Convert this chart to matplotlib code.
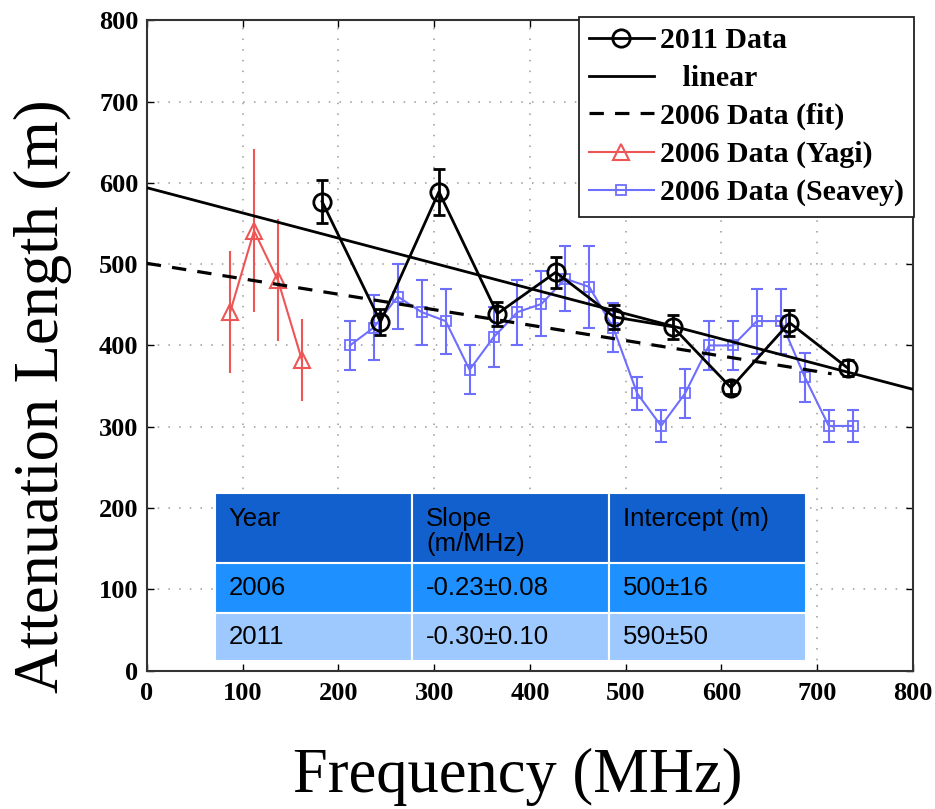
import matplotlib
matplotlib.use("Agg")
import matplotlib.pyplot as plt
from matplotlib.patches import Rectangle
import numpy as np

# ---------------- data ----------------
freq_2011 = [183, 244, 305, 366, 427, 488, 549, 610, 671, 732]
att_2011 = [577, 429, 589, 439, 490, 435, 423, 348, 428, 372]
err_2011 = [27, 16, 28, 15, 19, 15, 15, 8, 16, 10]

freq_yagi = [87, 112, 137, 162]
att_yagi = [441, 541, 480, 382]
err_yagi = [75, 100, 75, 50]

freq_seavey = [212, 237, 262, 287, 312, 337, 362, 387, 412, 437, 462,
               487, 512, 537, 562, 587, 612, 637, 662, 687, 712, 737]
att_seavey = [400, 422, 460, 441, 430, 370, 410, 441, 451, 482, 472,
              422, 341, 301, 341, 400, 400, 430, 430, 361, 301, 301]
err_seavey = [30, 40, 40, 40, 40, 30, 37, 40, 40, 40, 50,
              30, 20, 20, 30, 30, 30, 40, 40, 30, 20, 20]

# fitted lines as drawn (intercept, slope, x-range)
linear_intercept, linear_slope, linear_range = 594, -0.31, (0, 800)
fit2006_intercept, fit2006_slope, fit2006_range = 501, -0.19, (0, 715)

legend_labels = ["2011 Data", "   linear", "2006 Data (fit)",
                 "2006 Data (Yagi)", "2006 Data (Seavey)"]

table_cols = ["Year", "Slope\n(m/MHz)", "Intercept (m)"]
table_rows = [["2006", "-0.23\u00b10.08", "500\u00b116"],
              ["2011", "-0.30\u00b10.10", "590\u00b150"]]
table_colors = ["#1260CE", "#1E90FF", "#9DC9FF"]

x_ticks = [0, 100, 200, 300, 400, 500, 600, 700, 800]
y_ticks = [0, 100, 200, 300, 400, 500, 600, 700, 800]

# ---------------- figure ----------------
fig = plt.figure(figsize=(9.35, 8.09), dpi=100)
ax = fig.add_axes([0.157, 0.171, 0.9765 - 0.157, 0.975 - 0.171])
ax.set_xlim(0, 800)
ax.set_ylim(0, 800)

serif = "Liberation Serif"
sans = "Liberation Sans"

ax.grid(True, linestyle=(0, (1, 6)), color="#9a9a9a", linewidth=1.1, zorder=0)
ax.set_axisbelow(True)

red = "#EE5656"
blue = "#6E6EFF"

# Yagi
ax.errorbar(freq_yagi, att_yagi, yerr=err_yagi, fmt="none", ecolor=red,
            elinewidth=1.5, capsize=0, zorder=3)
h_yagi, = ax.plot(freq_yagi, att_yagi, color=red, lw=1.5, marker="^",
                  markersize=11, markerfacecolor="none", markeredgecolor=red,
                  markeredgewidth=1.5, zorder=3)
# Seavey
ax.errorbar(freq_seavey, att_seavey, yerr=err_seavey, fmt="none", ecolor=blue,
            elinewidth=1.5, capsize=4.5, capthick=1.5, zorder=3)
h_sea, = ax.plot(freq_seavey, att_seavey, color=blue, lw=1.5, marker="s",
                 markersize=7, markerfacecolor="none", markeredgecolor=blue,
                 markeredgewidth=1.3, zorder=3)

# fits
xl = np.array(linear_range)
h_lin, = ax.plot(xl, linear_intercept + linear_slope * xl, color="black",
                 lw=2.0, zorder=4)
xf = np.array(fit2006_range)
h_fit, = ax.plot(xf, fit2006_intercept + fit2006_slope * xf, color="black",
                 lw=2.3, linestyle=(0, (4.5, 3.5)), zorder=4)

# 2011
ax.errorbar(freq_2011, att_2011, yerr=err_2011, fmt="none", ecolor="black",
            elinewidth=2.0, capsize=4.5, capthick=2.0, zorder=5)
h_2011, = ax.plot(freq_2011, att_2011, color="black", lw=2.0, marker="o",
                  markersize=12.5, markerfacecolor="none",
                  markeredgecolor="black", markeredgewidth=2.0, zorder=5)

# ---------------- table ----------------
col_edges = [71, 277, 483, 688]
row_edges = [218, 132, 71, 12]
for r in range(3):
    for c in range(3):
        ax.add_patch(Rectangle((col_edges[c], row_edges[r + 1]),
                               col_edges[c + 1] - col_edges[c],
                               row_edges[r] - row_edges[r + 1],
                               facecolor=table_colors[r], edgecolor="white",
                               linewidth=1.5, zorder=2))
for c, txt in enumerate(table_cols):
    ax.text(col_edges[c] + 14.5, 201, txt, ha="left", va="top",
            fontsize=18.5, family=sans, linespacing=1.05, zorder=6)
for r, row in enumerate(table_rows):
    yc = (row_edges[r + 1] + row_edges[r + 2]) / 2
    for c, txt in enumerate(row):
        ax.text(col_edges[c] + 14.5, yc, txt, ha="left", va="center",
                fontsize=18.5, family=sans, zorder=6)

# ---------------- axes styling ----------------
ax.set_xticks(x_ticks)
ax.set_yticks(y_ticks)
ax.set_xticklabels([str(t) for t in x_ticks])
ax.set_yticklabels([str(t) for t in y_ticks])
ax.tick_params(direction="in", length=5, width=1, top=True, right=True,
               labelsize=19, pad=8)
for lab in ax.get_xticklabels() + ax.get_yticklabels():
    lab.set_family(serif)
    lab.set_fontweight("bold")
ax.tick_params(axis="y", pad=6)
for sp in ax.spines.values():
    sp.set_linewidth(1.5)
    sp.set_color("#333333")

ax.set_xlabel("Frequency (MHz)", fontsize=45, family=serif)
ax.set_ylabel("Attenuation Length (m)", fontsize=45, family=serif)
ax.xaxis.set_label_coords(0.4845, -0.118)
ax.yaxis.set_label_coords(-0.097, 0.422)

leg = ax.legend([h_2011, h_lin, h_fit, h_yagi, h_sea], legend_labels,
                loc="upper right", bbox_to_anchor=(1.0015, 1.005),
                borderaxespad=0, prop={"family": serif, "weight": "bold",
                                       "size": 21.5},
                handlelength=2.17, handletextpad=0.2, labelspacing=0.36,
                borderpad=0.35, fancybox=False, framealpha=1,
                edgecolor="#222222")
leg.get_frame().set_linewidth(1.3)
leg.set_zorder(10)

fig.savefig("out.png", dpi=100)
